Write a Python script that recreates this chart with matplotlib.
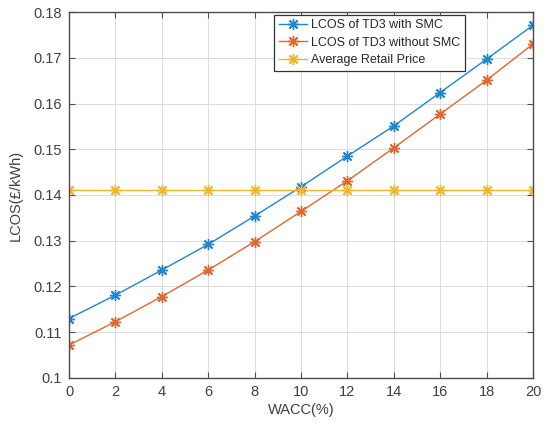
import numpy as np
import matplotlib
matplotlib.use('Agg')
import matplotlib.pyplot as plt
from matplotlib.ticker import FuncFormatter

# WACC (%) on the x axis
wacc = [0, 2, 4, 6, 8, 10, 12, 14, 16, 18, 20]

# LCOS values (GBP/kWh)
lcos_with_smc = [0.1130, 0.1181, 0.1236, 0.1292, 0.1354, 0.1418, 0.1485, 0.1551, 0.1624, 0.1697, 0.1771]
lcos_without_smc = [0.1072, 0.1123, 0.1178, 0.1236, 0.1298, 0.1364, 0.1431, 0.1503, 0.1577, 0.1651, 0.1730]
retail_price = [0.1412] * len(wacc)

labels = ['LCOS of TD3 with SMC', 'LCOS of TD3 without SMC', 'Average Retail Price']
colors = ['#1f86d0', '#e0672f', '#f0b72a']

plt.rcParams['font.family'] = ['Liberation Sans', 'DejaVu Sans']

fig = plt.figure(figsize=(5.49, 4.25), dpi=100)
ax = fig.add_axes([69 / 549, 1 - 378 / 425, (533 - 69) / 549, (378 - 12) / 425])

# matlab style '*' marker: 8 spoke asterisk
for y, c, lab in zip([lcos_with_smc, lcos_without_smc, retail_price], colors, labels):
    ax.plot(wacc, y, color=c, marker=(8, 2, 0), markersize=8, markeredgewidth=1.0,
            linewidth=1.0, label=lab)

ax.set_xlim(0, 20)
ax.set_ylim(0.1, 0.18)
ax.set_xticks(np.arange(0, 21, 2))
ax.set_yticks(np.arange(0.1, 0.1801, 0.01))
ax.yaxis.set_major_formatter(FuncFormatter(lambda v, p: '%g' % round(v, 2)))

ax.grid(True, color='#dcdcdc', linewidth=0.7)
ax.set_axisbelow(True)
for s in ax.spines.values():
    s.set_color('#4d4d4d')
    s.set_linewidth(1.0)
ax.tick_params(direction='in', top=True, right=True, length=4, width=0.8,
               color='#4d4d4d', labelcolor='#404040', labelsize=10.5, pad=5)

ax.set_xlabel('WACC(%)', fontsize=10.5, color='#404040', labelpad=3)
ax.set_ylabel('LCOS(£/kWh)', fontsize=10.5, color='#404040', labelpad=8)

leg = ax.legend(loc='upper right', bbox_to_anchor=(0.853, 0.993), fontsize=9,
                frameon=True, fancybox=False, edgecolor='#333333', framealpha=1,
                borderpad=0.35, labelspacing=0.45, handlelength=2.3, handletextpad=0.3,
                borderaxespad=0)
leg.get_frame().set_linewidth(0.9)
for t in leg.get_texts():
    t.set_color('#262626')

fig.savefig('out.png', dpi=100)
